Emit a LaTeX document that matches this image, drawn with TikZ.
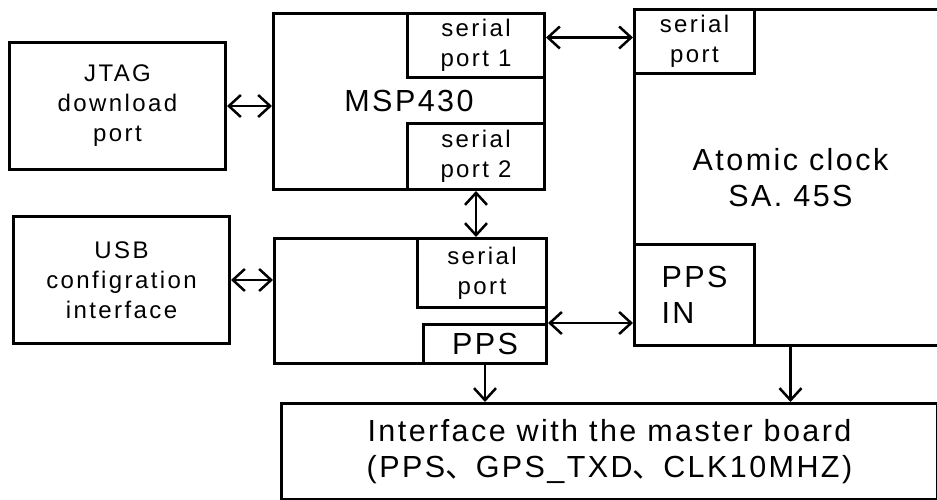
\documentclass[tikz,border=0pt]{standalone}
\usepackage{fontspec}
\setmainfont{Liberation Sans}
\newfontfamily\cjk{Noto Sans CJK SC}
\usetikzlibrary{arrows.meta}

\begin{document}
\begin{tikzpicture}[x=1pt,y=-1pt]
\tikzstyle{blk}=[draw,line width=3pt,inner sep=0pt,anchor=north west,align=center]
\tikzstyle{sm}=[font=\fontsize{24}{30}\selectfont\addfontfeatures{LetterSpace=10}]
\tikzstyle{big}=[font=\fontsize{30.5}{36}\selectfont\addfontfeatures{LetterSpace=8}]
\tikzstyle{link}=[line width=2.5pt,{Straight Barb[length=12pt,width=22pt]}-{Straight Barb[length=12pt,width=22pt]}]
\tikzstyle{down}=[line width=2.5pt,-{Straight Barb[length=12pt,width=22pt]}]
\useasboundingbox (0,0) rectangle (937,500);

% left column
\node[blk,sm,minimum width=216pt,minimum height=127pt] (jtag) at (8,41) {JTAG\\download\\port};
\node[blk,sm,minimum width=216pt,minimum height=127pt] (usb) at (12,215) {USB\\configration\\interface};

% MSP430 and its ports
\node[blk,big,minimum width=271pt,minimum height=176pt] (msp) at (272,12) {MSP430};
\node[blk,sm,minimum width=137pt,minimum height=64pt] (sp1) at (406,12) {serial\\port 1};
\node[blk,sm,minimum width=137pt,minimum height=66pt] (sp2) at (406,122) {serial\\port 2};

% lower module
\node[blk,minimum width=272pt,minimum height=125pt] (gpsbox) at (273,237) {};
\node[blk,sm,minimum width=129pt,minimum height=69pt] (gport) at (416,237) {serial\\port};
\node[blk,big,minimum width=123pt,minimum height=39pt] (pps) at (422,323) {PPS};

% atomic clock
\node[blk,big,minimum width=312pt,minimum height=336pt] (atomic) at (633,8) {Atomic clock\\SA. 45S};
\node[blk,sm,minimum width=120pt,minimum height=64pt] (aport) at (633,8) {serial\\port};
\node[blk,big,align=left,minimum width=120pt,minimum height=101pt] (ppsin) at (633,243) {PPS\\IN};

% master board
\node[blk,big,minimum width=656pt,minimum height=96pt] (iface) at (280,402) {Interface with the master board\\(PPS{\cjk 、}GPS\_TXD{\cjk 、}CLK10MHZ)};

% connectors
\draw[link] (jtag.east) -- (jtag.east -| msp.west);
\draw[link] (usb.east) -- (usb.east -| gpsbox.west);
\draw[link] ([yshift=8pt]sp1.east) -- ([yshift=8pt]sp1.east -| aport.west);
\draw[link] (sp2.south) -- (sp2.south |- gport.north);
\draw[link] (pps.north east) -- (pps.north east -| ppsin.west);
\draw[down] (pps.south) -- (pps.south |- iface.north);
\draw[down] (atomic.south) -- (atomic.south |- iface.north);
\end{tikzpicture}
\end{document}
